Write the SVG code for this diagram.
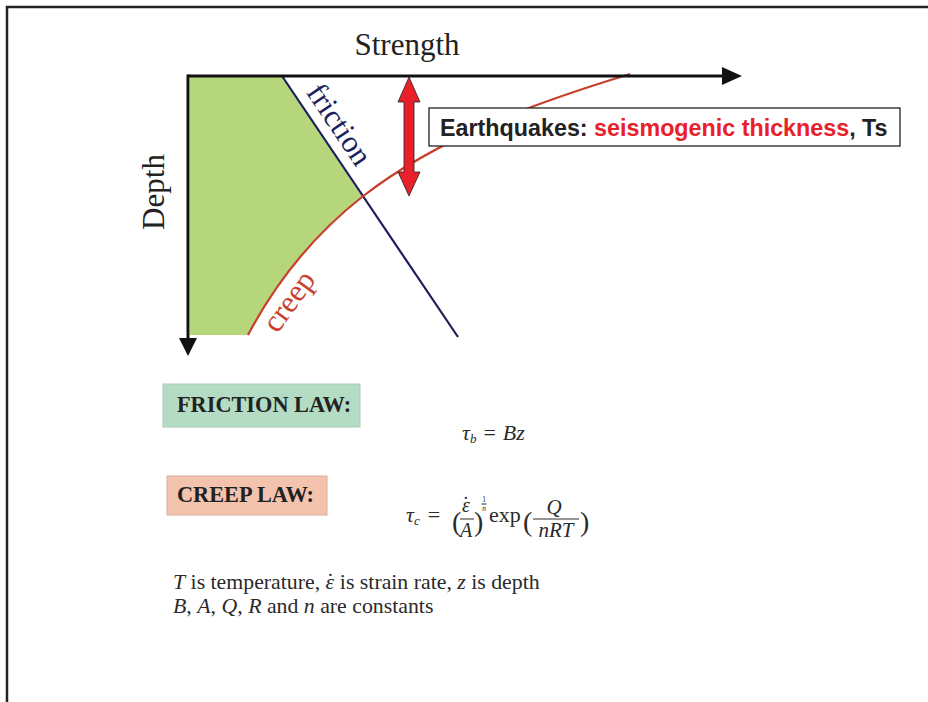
<svg xmlns="http://www.w3.org/2000/svg" width="928" height="702" viewBox="0 0 928 702">
<style>
.frame{fill:none;stroke:#222;stroke-width:2.5}
.axis{stroke:#111;stroke-width:3;fill:none}
.head{fill:#111}
.serif{font-family:"Liberation Serif","Times New Roman",serif;fill:#2a2a2a}
.it{font-style:italic}
.lawtxt{font-family:"Liberation Serif","Times New Roman",serif;font-weight:bold;font-size:22.3px;fill:#222}
.sans{font-family:"Liberation Sans",Arial,sans-serif;font-weight:bold;font-size:23.3px;fill:#222}
.bar{stroke:#2a2a2a;stroke-width:1}
</style>
<rect width="928" height="702" fill="#fff"/>
<path class="frame" d="M7,702 V7 H928"/>

<g id="seismogenic-zone">
<path d="M190,76 L282,76 L362,197 C315,234 276,282 248,335 L190,335 Z" fill="#b5d67b"/>
</g>

<g id="connectors">
<path id="friction-line" d="M282,76 L458,337" stroke="#1d1f5c" stroke-width="2.2" fill="none"/>
<path id="creep-curve" d="M248,335 C276,282 315,234 362,197 C439,137 535,103 630,74" stroke="#c8402e" stroke-width="2.2" fill="none"/>
<line class="axis" x1="188" y1="76" x2="724" y2="76"/>
<polygon class="head" points="742,76 722,67 722,85"/>
<line class="axis" x1="188" y1="74.5" x2="188" y2="340"/>
<polygon class="head" points="188,356 179,338 197,338"/>
<polygon id="ts-arrow" points="409,77 420,102 414,102 414,172 420,172 409,196 398,172 404,172 404,102 398,102" fill="#e8202a" stroke="#222" stroke-width="0.8"/>
</g>

<g id="axis-labels">
<text class="serif" x="407" y="55" font-size="31" text-anchor="middle" style="fill:#222">Strength</text>
<text class="serif" transform="translate(164,192) rotate(-90)" font-size="31" text-anchor="middle" style="fill:#222">Depth</text>
<text class="serif" transform="translate(331,130) rotate(56.1)" font-size="31" text-anchor="middle" style="fill:#1d1f5c">friction</text>
<text class="serif" transform="translate(297,307) rotate(-54)" font-size="31" text-anchor="middle" style="fill:#c8402e">creep</text>
</g>

<g id="ts-label">
<rect x="429" y="108" width="471" height="38" fill="#fff" stroke="#222" stroke-width="1.3"/>
<text class="sans" x="440" y="136">Earthquakes: <tspan fill="#e8202a">seismogenic thickness</tspan>, Ts</text>
</g>

<g id="friction-law">
<rect x="163" y="384" width="197" height="43" fill="#b4dcc4" stroke="#a9c9b6" stroke-width="1"/>
<text class="lawtxt" x="177" y="412">FRICTION LAW:</text>
</g>

<g id="creep-law">
<rect x="167" y="476" width="160" height="39" fill="#f4c3ae" stroke="#dcae9c" stroke-width="1"/>
<text class="lawtxt" x="177" y="502">CREEP LAW:</text>
</g>

<g id="eq-friction" class="serif" font-size="22">
<text x="462" y="440"><tspan class="it">τ</tspan><tspan class="it" font-size="13" dy="3">b</tspan><tspan dx="7" dy="-3">=</tspan><tspan class="it" dx="7">Bz</tspan></text>
</g>

<g id="eq-creep" class="serif" font-size="22">
<text x="406" y="522"><tspan class="it">τ</tspan><tspan class="it" font-size="13" dy="3">c</tspan><tspan dx="8" dy="-3">=</tspan></text>
<text x="452" y="531" font-size="28">(</text>
<text x="462" y="512" class="it" font-size="20">ε<tspan dx="-7.5" dy="-1" font-style="normal">˙</tspan></text>
<line class="bar" x1="460" y1="519" x2="474" y2="519"/>
<text x="466" y="537" text-anchor="middle" class="it" font-size="20">A</text>
<text x="474" y="531" font-size="28">)</text>
<text x="484" y="502" font-size="7.5" text-anchor="middle">1<tspan x="484" dy="8.5" font-style="italic">n</tspan></text>
<line class="bar" x1="481.5" y1="504" x2="486.5" y2="504" stroke-width="0.6"/>
<text x="489" y="522">exp</text>
<text x="523" y="531" font-size="28">(</text>
<text x="554" y="514" text-anchor="middle" class="it" font-size="21">Q</text>
<line class="bar" x1="533" y1="519" x2="579" y2="519"/>
<text x="556" y="537" text-anchor="middle" class="it" font-size="21">nRT</text>
<text x="580" y="531" font-size="28">)</text>
</g>

<g id="notes" class="serif" font-size="21.8">
<text x="173" y="589"><tspan class="it">T</tspan> is temperature, <tspan class="it">ε</tspan><tspan dx="-7.5" dy="-1">˙</tspan><tspan dx="0.5" dy="1"> is strain rate, </tspan><tspan class="it">z</tspan> is depth</text>
<text x="173" y="613"><tspan class="it">B</tspan>, <tspan class="it">A</tspan>, <tspan class="it">Q</tspan>, <tspan class="it">R</tspan> and <tspan class="it">n</tspan> are constants</text>
</g>
</svg>
